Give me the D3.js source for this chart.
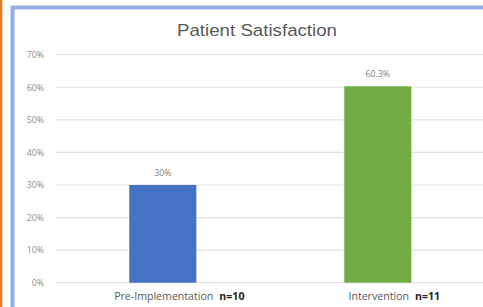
<!DOCTYPE html>
<html><head><meta charset="utf-8">
<script src="https://cdn.jsdelivr.net/npm/d3@7"></script>
<style>html,body{margin:0;padding:0;background:#fff;overflow:hidden}</style>
</head><body>
<script>
const categories = ["Pre-Implementation", "Intervention"];
const sampleSizes = ["n=10", "n=11"];
const values = [30, 60.3];
const valueLabels = ["30%", "60.3%"];
const barColors = ["#4472C4", "#70AD47"];
const yTicks = [0, 10, 20, 30, 40, 50, 60, 70];
const title = "Patient Satisfaction";

const W = 483, H = 307;
const svg = d3.select("body").append("svg").attr("width", W).attr("height", H);

// frame decorations
svg.append("rect").attr("x", 0).attr("y", 0).attr("width", 2.3).attr("height", H).attr("fill", "#F07A22");
svg.append("rect").attr("x", 12.5).attr("y", 7.5).attr("width", W).attr("height", H).attr("fill", "#fff")
  .attr("stroke", "#93AEDF").attr("stroke-width", 4);

const x = d3.scaleBand().domain(categories).range([55.3, 485.3]).paddingInner(0.688).paddingOuter(0.344);
const y = d3.scaleLinear().domain([0, 70]).range([282.7, 54.7]);

// gridlines
svg.append("g").selectAll("line").data(yTicks).join("line")
  .attr("x1", 55).attr("x2", W).attr("y1", d => y(d)).attr("y2", d => y(d))
  .attr("stroke", "#E3E3E3").attr("stroke-width", 1.2);

// y axis labels
const yAxis = d3.axisLeft(y).tickValues(yTicks).tickFormat(d => d + "%").tickSize(0).tickPadding(0);
const ya = svg.append("g").attr("transform", "translate(44,0)").call(yAxis);
ya.select(".domain").remove();
ya.selectAll("text").attr("fill", "#8C8C8C").attr("font-family", "Open Sans, sans-serif").attr("font-size", 8.8);

// bars
svg.append("g").selectAll("rect").data(values).join("rect")
  .attr("x", (d, i) => x(categories[i])).attr("width", x.bandwidth())
  .attr("y", d => y(d)).attr("height", d => y(0) - y(d))
  .attr("fill", (d, i) => barColors[i]);

// value labels
svg.append("g").selectAll("text").data(values).join("text")
  .attr("x", (d, i) => x(categories[i]) + x.bandwidth() / 2)
  .attr("y", d => y(d) - 9)
  .attr("text-anchor", "middle")
  .attr("fill", "#7F7F7F").attr("font-family", "Open Sans, sans-serif").attr("font-size", 8.8)
  .text((d, i) => valueLabels[i]);

// category labels
const cl = svg.append("g").selectAll("text").data(categories).join("text")
  .attr("x", d => x(d) + x.bandwidth() / 2 + 16.5)
  .attr("y", 300)
  .attr("text-anchor", "middle")
  .attr("font-family", "Open Sans, sans-serif").attr("font-size", 10.6).attr("fill", "#595959");
cl.append("tspan").text(d => d);
cl.append("tspan").attr("dx", 6).attr("font-weight", "bold").attr("fill", "#262626").text((d, i) => sampleSizes[i]);

// title
svg.append("text").attr("transform", "translate(257,35.5) scale(1.1,1)").attr("text-anchor", "middle")
  .attr("font-family", "Liberation Sans, Arial, sans-serif").attr("font-size", 17).attr("fill", "#595959")
  .text(title);
</script>
</body></html>
